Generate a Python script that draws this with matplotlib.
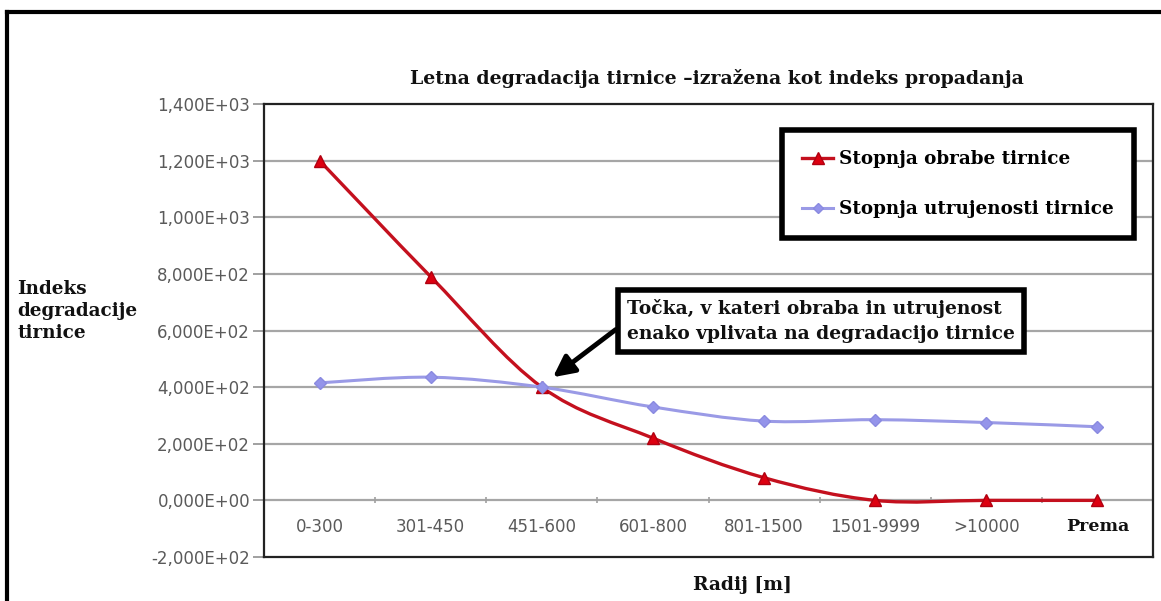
import numpy as np
import matplotlib.pyplot as plt
from matplotlib.lines import Line2D
from matplotlib.path import Path
from matplotlib.patches import PathPatch
from matplotlib.ticker import FuncFormatter

categories = ["0-300", "301-450", "451-600", "601-800", "801-1500",
              "1501-9999", ">10000", "Prema"]
wear = [1200, 790, 400, 220, 80, 0, 0, 0]
fatigue = [415, 435, 400, 330, 280, 285, 275, 260]
yticks = list(range(-200, 1401, 200))

W, H = 1161, 601
SERIF = "DejaVu Serif"
SANS = "DejaVu Sans"


def smooth_path(xs, ys):
    # Excel-like smoothed line: Bezier segments with Catmull-Rom control points
    pts = np.column_stack([xs, ys]).astype(float)
    n = len(pts)
    verts = [pts[0]]
    codes = [Path.MOVETO]
    for i in range(n - 1):
        p0 = pts[i - 1] if i > 0 else pts[i]
        p1 = pts[i]
        p2 = pts[i + 1]
        p3 = pts[i + 2] if i + 2 < n else pts[i + 1]
        c1 = p1 + (p2 - p0) / 6.0
        c2 = p2 - (p3 - p1) / 6.0
        verts += [c1, c2, p2]
        codes += [Path.CURVE4] * 3
    return Path(verts, codes)


def fmt_sci(v, pos):
    return f"{v:.3E}".replace(".", ",")


fig = plt.figure(figsize=(W / 100, H / 100), dpi=100)
ax = fig.add_axes([264 / W, 1 - 557 / H, (1153 - 264) / W, (557 - 104) / H])

x = np.arange(len(categories))
ax.set_xlim(-0.5, len(categories) - 0.5)
ax.set_ylim(-200, 1400)

# gridlines and zero axis
for v in yticks[1:-1]:
    ax.axhline(v, color="#a6a6a6", lw=1.6, zorder=1)
ax.plot(x[:-1] + 0.5, np.zeros(len(x) - 1), "|", color="#a0a0a0", ms=5, mew=1.2, zorder=1)

ax.set_yticks(yticks)
ax.yaxis.set_major_formatter(FuncFormatter(fmt_sci))
ax.tick_params(axis="y", length=8, width=1.2, color="#909090", pad=2,
               labelsize=12, labelcolor="#5a5a5a")
ax.set_xticks([])
for lab in ax.get_yticklabels():
    lab.set_family(SANS)
for sp in ax.spines.values():
    sp.set_color("#222222")
    sp.set_linewidth(1.6)

# category labels sit just below the zero line
for i, lab in enumerate(categories):
    if lab == "Prema":
        ax.annotate(lab, (i, 0), xytext=(0, -19), textcoords="offset points",
                    ha="center", va="center", fontsize=12.5, fontweight="bold",
                    family=SERIF, color="#111111")
    else:
        ax.annotate(lab, (i, 0), xytext=(0, -19), textcoords="offset points",
                    ha="center", va="center", fontsize=12, family=SANS,
                    color="#5a5a5a")

red_line = "#c4101e"
red_mk = "#dd0010"
blue_line = "#9a9ae6"
blue_mk = "#9494ea"

ax.add_patch(PathPatch(smooth_path(x, wear), fc="none", ec=red_line, lw=2.4, zorder=3))
ax.plot(x, wear, "^", color=red_mk, mec="#b00010", ms=9, zorder=4)
ax.add_patch(PathPatch(smooth_path(x, fatigue), fc="none", ec=blue_line, lw=2.2, zorder=5))
ax.plot(x, fatigue, "D", color=blue_mk, mec="#8a8ae0", ms=6, zorder=6)

handles = [
    Line2D([], [], color=red_line, lw=2.4, marker="^", ms=8, mfc=red_mk, mec="#b00010"),
    Line2D([], [], color=blue_line, lw=2.2, marker="D", ms=5, mfc=blue_mk, mec="#8a8ae0"),
]
leg = ax.legend(handles, ["Stopnja obrabe tirnice", "Stopnja utrujenosti tirnice"],
                loc="upper left", bbox_to_anchor=(782 / W, 1 - 130 / H),
                bbox_transform=fig.transFigure, fancybox=False, framealpha=1,
                borderpad=1.1, labelspacing=1.75, handlelength=1.7,
                handletextpad=0.3, borderaxespad=0,
                prop={"family": SERIF, "weight": "bold", "size": 13.2})
leg.get_frame().set_edgecolor("black")
leg.get_frame().set_linewidth(4)
leg.set_zorder(7)

ax.annotate("Točka, v kateri obraba in utrujenost\nenako vplivata na degradacijo tirnice",
            xy=(2.1, 435), xytext=(627, H - 321), textcoords="figure pixels",
            ha="left", va="center", fontsize=13.4, fontweight="bold", family=SERIF,
            color="#111111", linespacing=1.5, zorder=8,
            bbox=dict(boxstyle="square,pad=0.5", fc="white", ec="black", lw=4),
            arrowprops=dict(arrowstyle="-|>", color="black", lw=3.5,
                            mutation_scale=32, relpos=(0, 0.5), shrinkA=0, shrinkB=0))

fig.text(717 / W, 1 - 79 / H,
         "Letna degradacija tirnice \u2013izražena kot indeks propadanja",
         ha="center", va="center", fontsize=13.6, fontweight="bold", family=SERIF,
         color="#111111")
fig.text(17 / W, 1 - 311 / H, "Indeks\ndegradacije\ntirnice", ha="left", va="center",
         fontsize=13.2, fontweight="bold", family=SERIF, linespacing=1.3,
         color="#111111")
fig.text(742 / W, 1 - 585 / H, "Radij [m]", ha="center", va="center", fontsize=13.5,
         fontweight="bold", family=SERIF, color="#111111")

# outer frame of the picture (top and left edges)
fig.add_artist(Line2D([7 / W, 1], [1 - 12 / H, 1 - 12 / H], color="black", lw=3))
fig.add_artist(Line2D([7 / W, 7 / W], [0, 1 - 12 / H], color="black", lw=3))

fig.savefig("out.png", dpi=100)
